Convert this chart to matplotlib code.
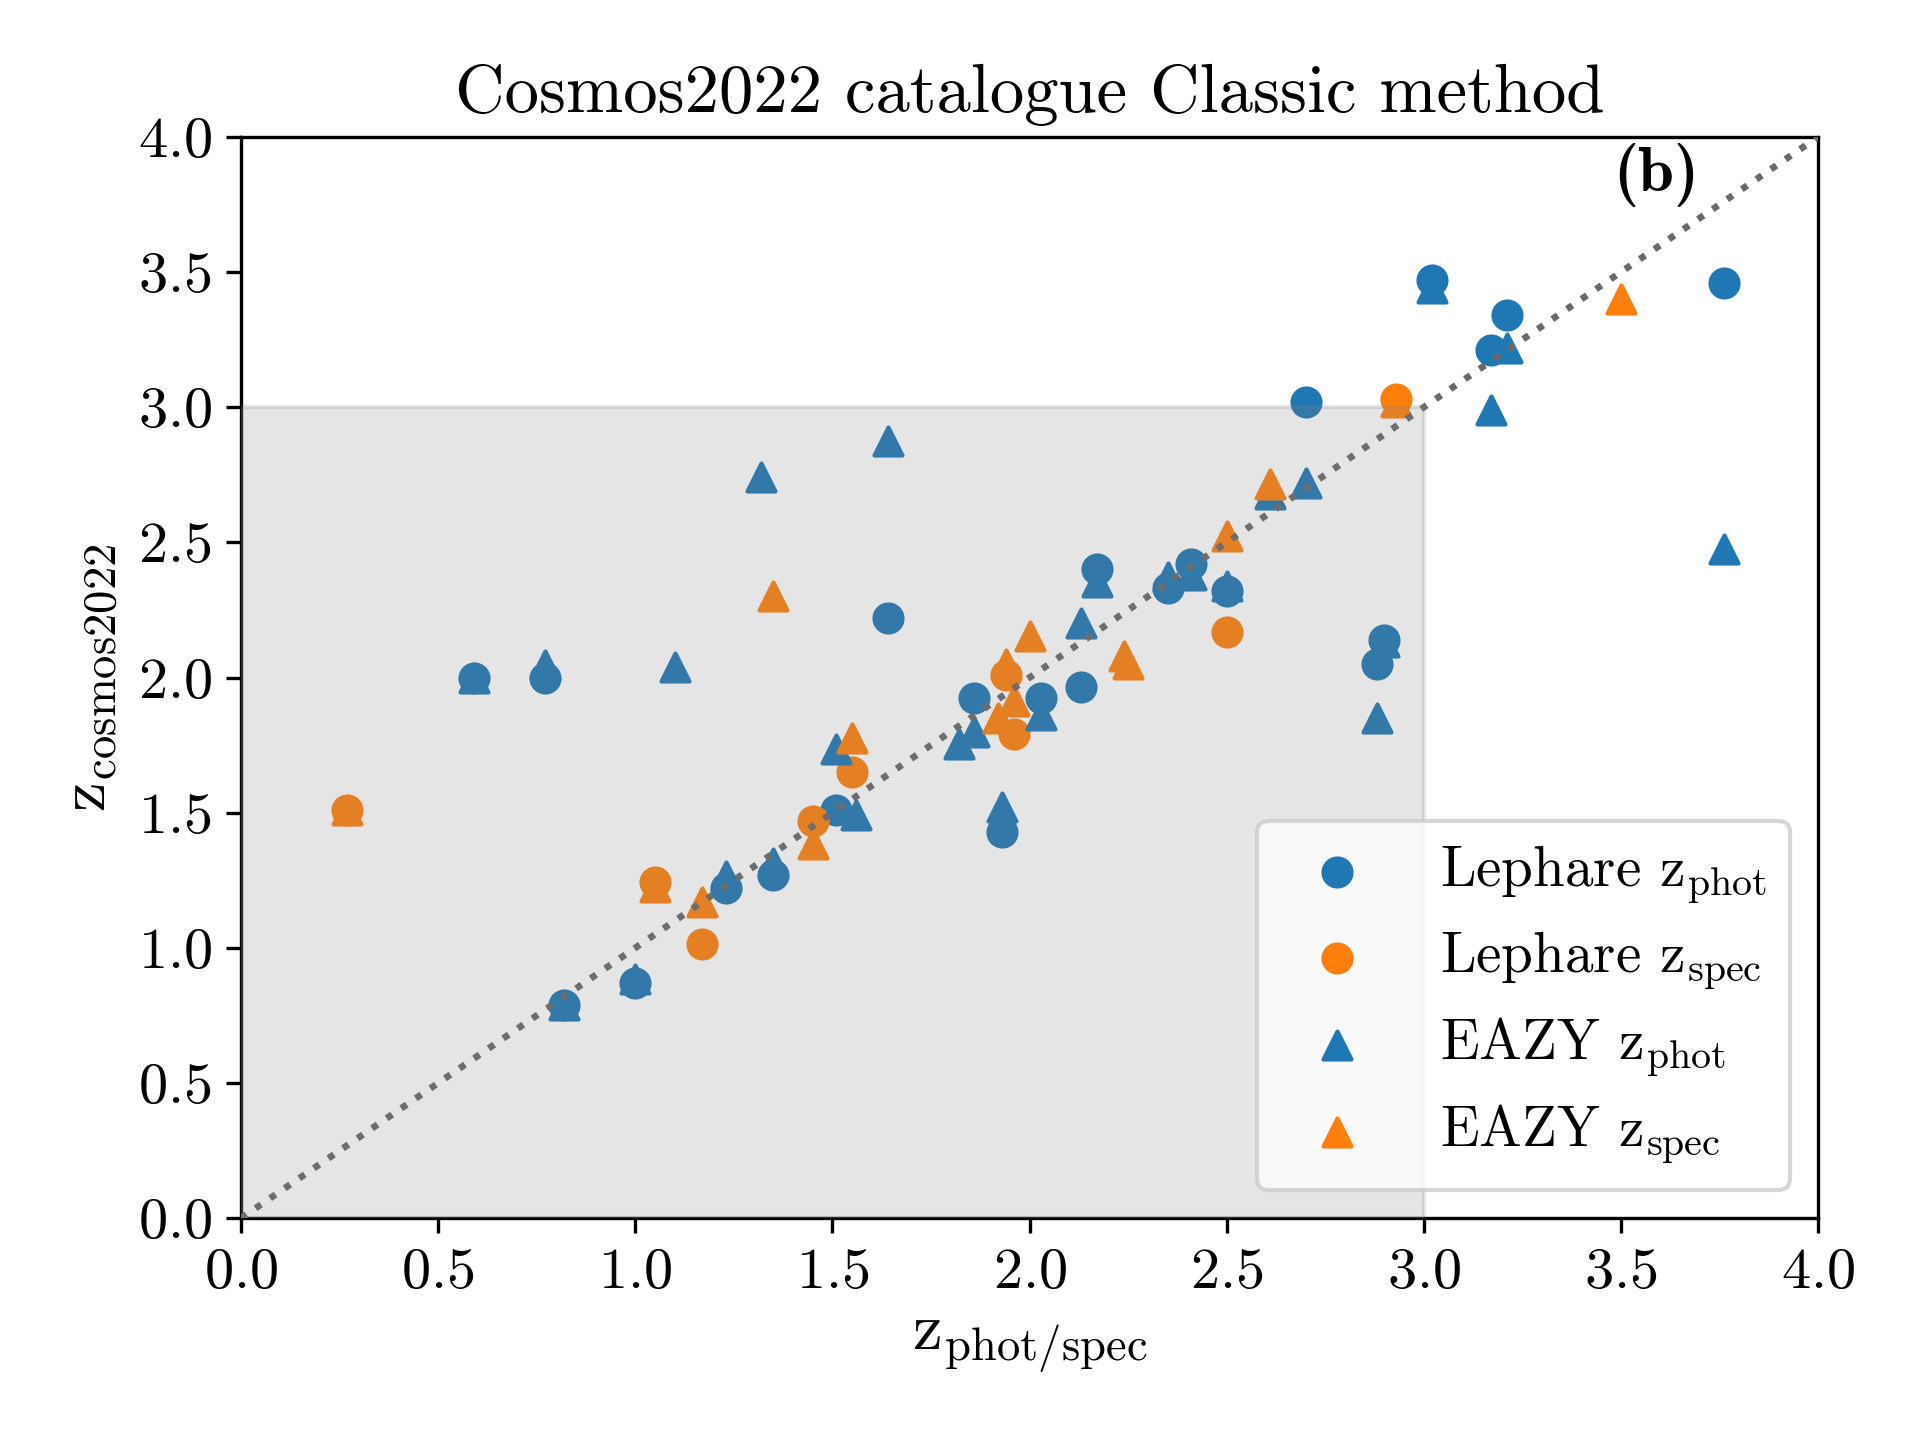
import matplotlib
matplotlib.use("Agg")
import matplotlib.pyplot as plt
from matplotlib.patches import Rectangle

plt.rcParams['font.family'] = 'serif'
plt.rcParams['font.serif'] = ['cmr10']
plt.rcParams['mathtext.fontset'] = 'cm'
plt.rcParams['axes.formatter.use_mathtext'] = True
plt.rcParams['axes.unicode_minus'] = False

# Lephare z_phot (blue circles)
leph_phot_x = [3.76, 3.02, 3.21, 3.17, 2.70, 2.17, 2.41, 2.35, 2.50, 1.64, 2.90, 2.88,
               0.59, 0.77, 2.13, 2.03, 1.86, 1.51, 1.93, 1.35, 1.23, 1.00, 0.82]
leph_phot_y = [3.46, 3.47, 3.34, 3.21, 3.02, 2.40, 2.42, 2.33, 2.32, 2.22, 2.14, 2.05,
               2.00, 2.00, 1.965, 1.925, 1.925, 1.51, 1.43, 1.27, 1.22, 0.87, 0.79]
# Lephare z_spec (orange circles)
leph_spec_x = [2.93, 2.50, 1.94, 1.96, 1.55, 1.45, 0.27, 1.05, 1.17]
leph_spec_y = [3.03, 2.17, 2.01, 1.79, 1.65, 1.47, 1.51, 1.245, 1.015]
# EAZY z_phot (blue triangles)
eazy_phot_x = [3.02, 3.21, 3.17, 3.76, 2.70, 2.61, 1.64, 1.32, 2.35, 2.41, 2.50, 2.17,
               2.13, 2.90, 1.10, 0.77, 0.59, 2.88, 2.03, 1.86, 1.82, 1.51, 1.56, 1.93,
               1.35, 1.23, 1.00, 0.82]
eazy_phot_y = [3.44, 3.22, 2.99, 2.475, 2.72, 2.68, 2.875, 2.74, 2.37, 2.38, 2.34, 2.355,
               2.20, 2.13, 2.04, 2.045, 2.00, 1.85, 1.86, 1.80, 1.755, 1.735, 1.49, 1.52,
               1.315, 1.265, 0.885, 0.79]
# EAZY z_spec (orange triangles)
eazy_spec_x = [3.50, 2.93, 2.61, 2.50, 1.35, 2.00, 2.24, 2.25, 1.94, 1.96, 1.92, 1.55,
               1.45, 1.05, 1.17, 0.27]
eazy_spec_y = [3.40, 3.02, 2.715, 2.525, 2.30, 2.155, 2.08, 2.05, 2.05, 1.915, 1.85, 1.775,
               1.385, 1.225, 1.17, 1.51]

fig = plt.figure(figsize=(6.4, 4.8), dpi=300)
ax = fig.add_axes([0.1255, 0.154, 0.8215, 0.751])

ms = 45
ax.scatter(leph_phot_x, leph_phot_y, s=ms, marker='o', color='C0', label=r'Lephare $\mathrm{z_{phot}}$', zorder=3)
ax.scatter(leph_spec_x, leph_spec_y, s=ms, marker='o', color='C1', label=r'Lephare $\mathrm{z_{spec}}$', zorder=3)
ax.scatter(eazy_phot_x, eazy_phot_y, s=ms, marker='^', color='C0', label=r'EAZY $\mathrm{z_{phot}}$', zorder=3)
ax.scatter(eazy_spec_x, eazy_spec_y, s=ms, marker='^', color='C1', label=r'EAZY $\mathrm{z_{spec}}$', zorder=3)

ax.plot([0, 4], [0, 4], linestyle=':', color='dimgray', linewidth=1.6, zorder=4)
ax.add_patch(Rectangle((0, 0), 3, 3, color='gray', alpha=0.2, linewidth=1.0, zorder=5))

ax.set_xlim(0, 4)
ax.set_ylim(0, 4)
ax.tick_params(labelsize=14)
ax.set_xlabel(r'$\mathrm{z_{phot/spec}}$', fontsize=16)
ax.set_ylabel(r'$\mathrm{z_{cosmos2022}}$', fontsize=16)
ax.set_title('Cosmos2022 catalogue Classic method', fontsize=16.5)
ax.text(3.59, 3.86, '(b)', fontfamily='cmb10', fontsize=15.5, ha='center', va='center')

leg = ax.legend(loc='lower right', fontsize=13.7, framealpha=0.8, labelspacing=0.4)
leg.set_zorder(6)

fig.savefig('out.png', dpi=300)
